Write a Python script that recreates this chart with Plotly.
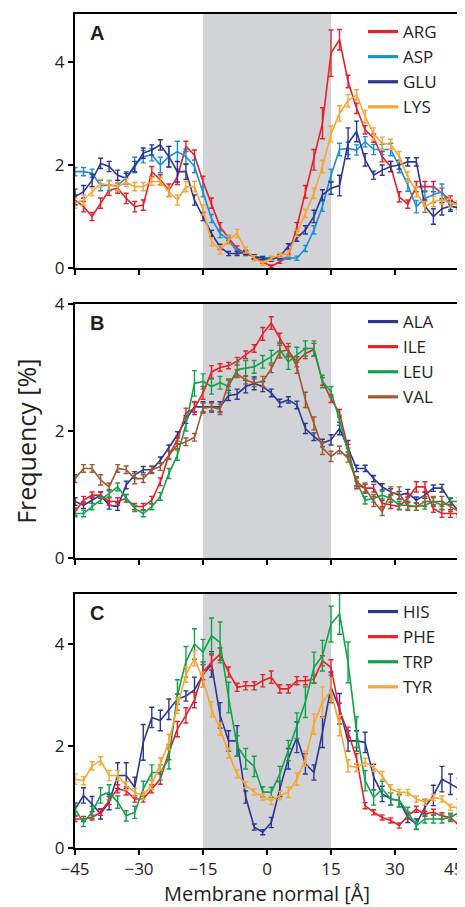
import plotly.graph_objects as go

x_vals = list(range(-45, 46, 2))

# Panel A
arg = [1.32, 1.19, 1.0, 1.26, 1.51, 1.55, 1.35, 1.19, 1.22, 1.87, 1.71, 1.51, 1.77, 2.36, 2.19, 1.68, 1.26, 0.8, 0.58, 0.38, 0.28, 0.22, 0.12, 0.03, 0.12, 0.22, 0.8, 1.48, 2.1, 2.81, 4.17, 4.43, 3.62, 3.1, 2.68, 2.52, 2.16, 1.97, 1.38, 1.24, 1.58, 1.58, 1.58, 1.45, 1.32, 1.22]
arg_err = [0.1, 0.1, 0.08, 0.1, 0.1, 0.1, 0.1, 0.1, 0.1, 0.1, 0.1, 0.12, 0.15, 0.1, 0.1, 0.1, 0.1, 0.08, 0.05, 0.05, 0.04, 0.04, 0.03, 0.03, 0.03, 0.05, 0.08, 0.12, 0.2, 0.3, 0.45, 0.2, 0.12, 0.1, 0.08, 0.08, 0.1, 0.1, 0.1, 0.08, 0.1, 0.1, 0.1, 0.1, 0.08, 0.08]
asp = [1.87, 1.87, 1.84, 1.6, 1.6, 1.6, 1.75, 2.0, 2.16, 2.2, 2.0, 2.16, 2.26, 2.16, 1.97, 1.48, 0.96, 0.67, 0.54, 0.32, 0.3, 0.22, 0.2, 0.19, 0.19, 0.2, 0.19, 0.38, 0.74, 1.2, 1.8, 2.3, 2.32, 2.29, 2.45, 2.3, 2.3, 2.3, 1.97, 1.61, 1.19, 1.35, 1.42, 1.48, 1.19, 1.19]
asp_err = [0.08, 0.08, 0.08, 0.1, 0.1, 0.1, 0.12, 0.15, 0.12, 0.12, 0.15, 0.2, 0.2, 0.15, 0.12, 0.1, 0.08, 0.08, 0.06, 0.05, 0.04, 0.04, 0.03, 0.03, 0.03, 0.03, 0.04, 0.06, 0.08, 0.1, 0.12, 0.12, 0.12, 0.1, 0.1, 0.1, 0.1, 0.12, 0.12, 0.12, 0.12, 0.15, 0.15, 0.15, 0.06, 0.06]
glu = [1.38, 1.48, 1.7, 2.03, 1.97, 1.8, 1.74, 1.97, 2.23, 2.29, 2.39, 2.16, 1.87, 1.87, 1.32, 1.0, 0.67, 0.41, 0.28, 0.28, 0.3, 0.22, 0.19, 0.16, 0.22, 0.42, 0.58, 0.74, 1.0, 1.42, 1.55, 1.6, 2.42, 2.65, 2.1, 1.8, 1.9, 1.97, 2.0, 2.06, 2.06, 1.2, 1.0, 1.15, 1.2, 1.16]
glu_err = [0.15, 0.12, 0.12, 0.1, 0.1, 0.1, 0.1, 0.1, 0.1, 0.1, 0.1, 0.2, 0.2, 0.15, 0.1, 0.08, 0.06, 0.05, 0.04, 0.04, 0.04, 0.04, 0.03, 0.03, 0.04, 0.05, 0.06, 0.08, 0.12, 0.1, 0.12, 0.2, 0.3, 0.2, 0.12, 0.08, 0.1, 0.1, 0.08, 0.08, 0.08, 0.12, 0.15, 0.12, 0.1, 0.1]
lys = [1.26, 1.32, 1.48, 1.64, 1.61, 1.58, 1.66, 1.58, 1.58, 1.68, 1.68, 1.48, 1.32, 1.58, 1.58, 1.13, 0.51, 0.35, 0.54, 0.67, 0.35, 0.19, 0.09, 0.19, 0.25, 0.28, 0.67, 1.06, 1.45, 1.97, 2.6, 3.0, 3.25, 3.36, 2.94, 2.6, 2.42, 2.4, 2.16, 1.77, 1.48, 1.19, 1.29, 1.32, 1.26, 1.22]
lys_err = [0.1, 0.1, 0.08, 0.08, 0.08, 0.08, 0.08, 0.08, 0.08, 0.08, 0.08, 0.1, 0.1, 0.1, 0.1, 0.1, 0.08, 0.08, 0.08, 0.08, 0.06, 0.05, 0.04, 0.04, 0.04, 0.05, 0.06, 0.08, 0.1, 0.12, 0.15, 0.15, 0.12, 0.1, 0.12, 0.12, 0.12, 0.1, 0.1, 0.1, 0.1, 0.1, 0.1, 0.08, 0.08, 0.08]

# Panel B
ala = [0.89, 0.83, 0.91, 0.99, 0.83, 0.81, 1.15, 1.31, 1.39, 1.39, 1.54, 1.73, 1.94, 2.18, 2.38, 2.38, 2.38, 2.38, 2.56, 2.58, 2.7, 2.75, 2.7, 2.6, 2.44, 2.49, 2.41, 2.04, 1.91, 1.81, 1.86, 2.04, 1.73, 1.41, 1.41, 1.25, 1.12, 1.04, 0.99, 1.02, 0.91, 0.99, 1.1, 1.1, 0.89, 0.73]
ala_err = [0.06, 0.05, 0.05, 0.05, 0.06, 0.06, 0.06, 0.05, 0.05, 0.05, 0.05, 0.05, 0.05, 0.06, 0.08, 0.08, 0.08, 0.08, 0.08, 0.08, 0.1, 0.1, 0.08, 0.06, 0.06, 0.05, 0.06, 0.08, 0.06, 0.06, 0.08, 0.1, 0.12, 0.05, 0.05, 0.05, 0.05, 0.05, 0.06, 0.06, 0.05, 0.05, 0.05, 0.06, 0.05, 0.05]
ile = [0.73, 0.91, 0.99, 0.99, 0.89, 0.89, 0.94, 0.81, 0.81, 0.91, 1.2, 1.62, 1.86, 2.28, 2.36, 2.6, 2.93, 3.0, 3.03, 3.1, 3.2, 3.3, 3.53, 3.7, 3.46, 3.25, 3.09, 3.22, 3.28, 2.78, 2.51, 2.28, 1.73, 1.15, 1.1, 1.1, 0.86, 0.83, 0.81, 0.94, 1.12, 1.12, 0.78, 0.7, 0.7, 0.7]
ile_err = [0.06, 0.06, 0.05, 0.05, 0.06, 0.06, 0.06, 0.05, 0.05, 0.06, 0.06, 0.06, 0.06, 0.08, 0.1, 0.1, 0.1, 0.06, 0.05, 0.06, 0.06, 0.06, 0.1, 0.1, 0.08, 0.08, 0.08, 0.08, 0.1, 0.06, 0.06, 0.06, 0.06, 0.06, 0.06, 0.06, 0.05, 0.05, 0.05, 0.06, 0.08, 0.08, 0.06, 0.06, 0.06, 0.06]
leu = [0.7, 0.7, 0.81, 0.91, 1.02, 1.12, 0.94, 0.78, 0.7, 0.81, 0.97, 1.33, 1.62, 2.1, 2.75, 2.78, 2.7, 2.76, 2.7, 2.97, 2.99, 3.01, 3.09, 3.17, 3.28, 3.09, 3.2, 3.3, 3.3, 2.78, 2.62, 2.17, 1.67, 1.2, 0.91, 0.94, 0.99, 0.94, 0.83, 0.83, 0.81, 0.83, 0.89, 0.83, 0.89, 0.89]
leu_err = [0.05, 0.05, 0.05, 0.05, 0.06, 0.06, 0.06, 0.05, 0.05, 0.05, 0.06, 0.08, 0.08, 0.1, 0.2, 0.12, 0.12, 0.1, 0.1, 0.12, 0.12, 0.1, 0.1, 0.1, 0.12, 0.12, 0.12, 0.12, 0.12, 0.1, 0.08, 0.08, 0.06, 0.06, 0.06, 0.06, 0.06, 0.06, 0.06, 0.06, 0.06, 0.06, 0.06, 0.06, 0.06, 0.06]
val = [1.25, 1.41, 1.41, 1.23, 1.12, 1.41, 1.39, 1.25, 1.25, 1.39, 1.44, 1.62, 1.78, 1.83, 1.9, 2.36, 2.38, 2.34, 2.76, 2.9, 2.8, 2.76, 2.78, 2.98, 3.25, 3.28, 3.01, 2.49, 2.12, 1.73, 1.6, 1.7, 1.57, 1.2, 1.1, 0.89, 0.73, 1.02, 1.02, 0.81, 0.81, 0.89, 0.89, 0.89, 0.81, 0.73]
val_err = [0.06, 0.06, 0.06, 0.08, 0.06, 0.06, 0.06, 0.08, 0.06, 0.06, 0.06, 0.06, 0.06, 0.06, 0.06, 0.08, 0.06, 0.08, 0.06, 0.06, 0.06, 0.06, 0.08, 0.06, 0.1, 0.1, 0.1, 0.12, 0.1, 0.1, 0.08, 0.06, 0.06, 0.08, 0.08, 0.08, 0.06, 0.1, 0.1, 0.06, 0.06, 0.08, 0.08, 0.08, 0.08, 0.06]

# Panel C
his = [0.76, 1.03, 0.86, 0.67, 0.9, 1.42, 1.42, 1.19, 2.07, 2.56, 2.5, 2.72, 2.92, 2.98, 3.1, 3.4, 3.6, 2.6, 2.1, 2.1, 1.0, 0.41, 0.31, 0.5, 1.16, 1.75, 2.17, 1.65, 1.48, 2.27, 3.15, 2.73, 2.1, 2.1, 2.07, 1.39, 1.06, 0.96, 0.93, 0.6, 0.47, 0.8, 1.03, 1.35, 1.25, 1.16]
his_err = [0.12, 0.15, 0.15, 0.1, 0.15, 0.25, 0.25, 0.2, 0.35, 0.2, 0.2, 0.2, 0.1, 0.1, 0.25, 0.25, 0.25, 0.25, 0.2, 0.3, 0.12, 0.06, 0.05, 0.1, 0.15, 0.2, 0.3, 0.2, 0.15, 0.3, 0.3, 0.3, 0.2, 0.2, 0.2, 0.25, 0.15, 0.12, 0.12, 0.1, 0.1, 0.15, 0.2, 0.25, 0.2, 0.2]
phe = [0.57, 0.57, 0.6, 0.7, 0.93, 1.16, 1.12, 0.96, 0.96, 1.16, 1.35, 1.88, 2.33, 2.6, 2.9, 3.45, 3.64, 3.8, 3.45, 3.15, 3.18, 3.18, 3.28, 3.35, 3.12, 3.12, 3.28, 3.28, 3.31, 3.67, 3.54, 2.69, 2.27, 1.75, 0.83, 0.7, 0.6, 0.54, 0.44, 0.63, 0.76, 0.67, 0.7, 0.63, 0.6, 0.44]
phe_err = [0.05, 0.05, 0.05, 0.06, 0.08, 0.08, 0.08, 0.06, 0.06, 0.08, 0.1, 0.15, 0.15, 0.15, 0.15, 0.15, 0.15, 0.12, 0.1, 0.08, 0.08, 0.08, 0.12, 0.12, 0.08, 0.08, 0.08, 0.08, 0.08, 0.1, 0.15, 0.15, 0.1, 0.1, 0.06, 0.05, 0.05, 0.05, 0.05, 0.06, 0.06, 0.05, 0.06, 0.06, 0.05, 0.05]
trp = [0.76, 0.5, 0.7, 1.03, 1.09, 0.9, 0.63, 0.7, 1.16, 1.48, 1.48, 1.75, 3.0, 3.65, 4.0, 3.84, 4.16, 4.03, 2.95, 2.0, 1.75, 1.6, 1.1, 1.09, 1.45, 1.91, 2.4, 2.86, 3.54, 3.77, 4.39, 4.59, 3.64, 2.27, 1.32, 0.99, 1.16, 0.96, 0.93, 0.7, 0.44, 0.57, 0.57, 0.57, 0.6, 0.7]
trp_err = [0.12, 0.08, 0.12, 0.15, 0.15, 0.12, 0.1, 0.12, 0.15, 0.15, 0.15, 0.2, 0.3, 0.3, 0.3, 0.25, 0.35, 0.4, 0.3, 0.2, 0.2, 0.2, 0.1, 0.1, 0.15, 0.2, 0.25, 0.3, 0.3, 0.3, 0.35, 0.4, 0.4, 0.3, 0.2, 0.15, 0.15, 0.12, 0.12, 0.1, 0.08, 0.08, 0.08, 0.08, 0.08, 0.08]
tyr = [1.35, 1.32, 1.61, 1.71, 1.42, 1.42, 1.22, 1.09, 1.03, 1.25, 1.65, 2.08, 2.79, 3.4, 3.72, 3.3, 2.72, 2.33, 1.86, 1.45, 1.24, 1.1, 1.0, 0.93, 1.03, 1.09, 1.35, 1.75, 2.43, 2.86, 3.08, 2.4, 1.61, 1.58, 1.68, 1.58, 1.42, 1.16, 1.09, 1.09, 0.96, 0.9, 0.99, 0.96, 0.8, 0.8]
tyr_err = [0.1, 0.08, 0.08, 0.08, 0.1, 0.1, 0.08, 0.08, 0.08, 0.1, 0.12, 0.15, 0.15, 0.15, 0.15, 0.15, 0.15, 0.12, 0.1, 0.08, 0.06, 0.06, 0.06, 0.08, 0.08, 0.1, 0.12, 0.15, 0.2, 0.3, 0.25, 0.2, 0.12, 0.08, 0.08, 0.08, 0.08, 0.08, 0.06, 0.06, 0.06, 0.06, 0.06, 0.06, 0.06, 0.06]

RED = "#e8202a"
LBLUE = "#1c8fd3"
DBLUE = "#2b3791"
ORANGE = "#f9a533"
GREEN = "#12a24c"
BROWN = "#9c5a30"

panels = [
    ("A", [("ARG", arg, arg_err, RED), ("ASP", asp, asp_err, LBLUE), ("GLU", glu, glu_err, DBLUE), ("LYS", lys, lys_err, ORANGE)]),
    ("B", [("ALA", ala, ala_err, DBLUE), ("ILE", ile, ile_err, RED), ("LEU", leu, leu_err, GREEN), ("VAL", val, val_err, BROWN)]),
    ("C", [("HIS", his, his_err, DBLUE), ("PHE", phe, phe_err, RED), ("TRP", trp, trp_err, GREEN), ("TYR", tyr, tyr_err, ORANGE)]),
]
y_ranges = [[0, 4.93], [0, 4.0], [0, 4.98]]
x_ticks = [-45, -30, -15, 0, 15, 30, 45]
x_ticktext = ["\u221245", "\u221230", "\u221215", "0", "15", "30", ""]
last_tick_label = "45"
y_ticks = [0, 2, 4]

FONT = "Open Sans"
TXT = "#231f20"
fig = go.Figure()

H = 834.0
domains = [[(834 - 254) / H, 1.0], [(834 - 544) / H, (834 - 290) / H], [0.0, 254 / H]]
legend_names = ["legend", "legend2", "legend3"]

for i, (label, series) in enumerate(panels):
    xa = "x" if i == 0 else f"x{i+1}"
    ya = "y" if i == 0 else f"y{i+1}"
    for name, ys, errs, col in series:
        fig.add_trace(go.Scatter(
            x=x_vals, y=ys, mode="lines", name=name, showlegend=False,
            line=dict(color=col, width=1.6),
            error_y=dict(type="data", array=errs, visible=True, color=col, thickness=1.4, width=2.5),
            xaxis=xa, yaxis=ya, cliponaxis=True,
        ))
    for name, ys, errs, col in series:
        fig.add_trace(go.Scatter(
            x=[None], y=[None], mode="lines", name=name, showlegend=True,
            line=dict(color=col, width=3.2), xaxis=xa, yaxis=ya,
            legend=legend_names[i],
        ))
    fig.add_shape(type="rect", xref=xa, yref=f"{ya} domain", x0=-15, x1=15, y0=0, y1=1,
                  fillcolor="#d1d3d6", line=dict(width=0), layer="below")
    fig.add_annotation(text=f"<b>{label}</b>", xref=f"{xa} domain", yref=f"{ya} domain",
                       x=0.033, y=0.975, xanchor="left", yanchor="top", showarrow=False,
                       font=dict(family="Liberation Sans", size=20, color=TXT))
    axis_common = dict(showline=True, linecolor="black", linewidth=2, mirror=True,
                       ticks="outside", ticklen=5, tickwidth=1.5, tickcolor="black",
                       showgrid=False, zeroline=False, ticklabeloverflow="allow",
                       tickfont=dict(family=FONT, size=17, color=TXT))
    fig.layout[("xaxis" if i == 0 else f"xaxis{i+1}")] = dict(
        axis_common, range=[-45, 45], tickvals=x_ticks, ticktext=x_ticktext,
        showticklabels=(i == 2), anchor=ya, domain=[0, 1])
    fig.layout[("yaxis" if i == 0 else f"yaxis{i+1}")] = dict(
        axis_common, range=y_ranges[i], tickvals=y_ticks, anchor=xa, domain=domains[i])
    fig.layout[legend_names[i]] = dict(
        x=0.75, y=domains[i][1], xanchor="left", yanchor="top",
        bgcolor="rgba(0,0,0,0)", font=dict(family=FONT, size=17, color=TXT),
        tracegroupgap=0, itemwidth=30)

# last x tick label, kept right-aligned so it stays inside the page edge
fig.add_annotation(text=last_tick_label, xref="x3", yref="y3 domain", x=x_ticks[-1], y=0,
                   xanchor="right", yanchor="middle", xshift=5, yshift=-20, showarrow=False,
                   borderpad=0, font=dict(family=FONT, size=17, color=TXT))

fig.add_annotation(text="Frequency [%]", xref="paper", yref="paper", x=-0.128, y=0.488,
                   textangle=-90, showarrow=False, xanchor="center", yanchor="middle",
                   font=dict(family=FONT, size=25, color=TXT))
fig.add_annotation(text="Membrane normal [Å]", xref="paper", yref="paper", x=0.5, y=-0.054,
                   showarrow=False, xanchor="center", yanchor="middle",
                   font=dict(family=FONT, size=20, color=TXT))

# the page body adds an 8px offset, so the figure is sized to fill the 465x907 window
fig.update_layout(width=457, height=899,
                  margin=dict(l=67, r=6, t=6, b=59, autoexpand=False),
                  plot_bgcolor="white", paper_bgcolor="white")

fig.write_html("out.html")
